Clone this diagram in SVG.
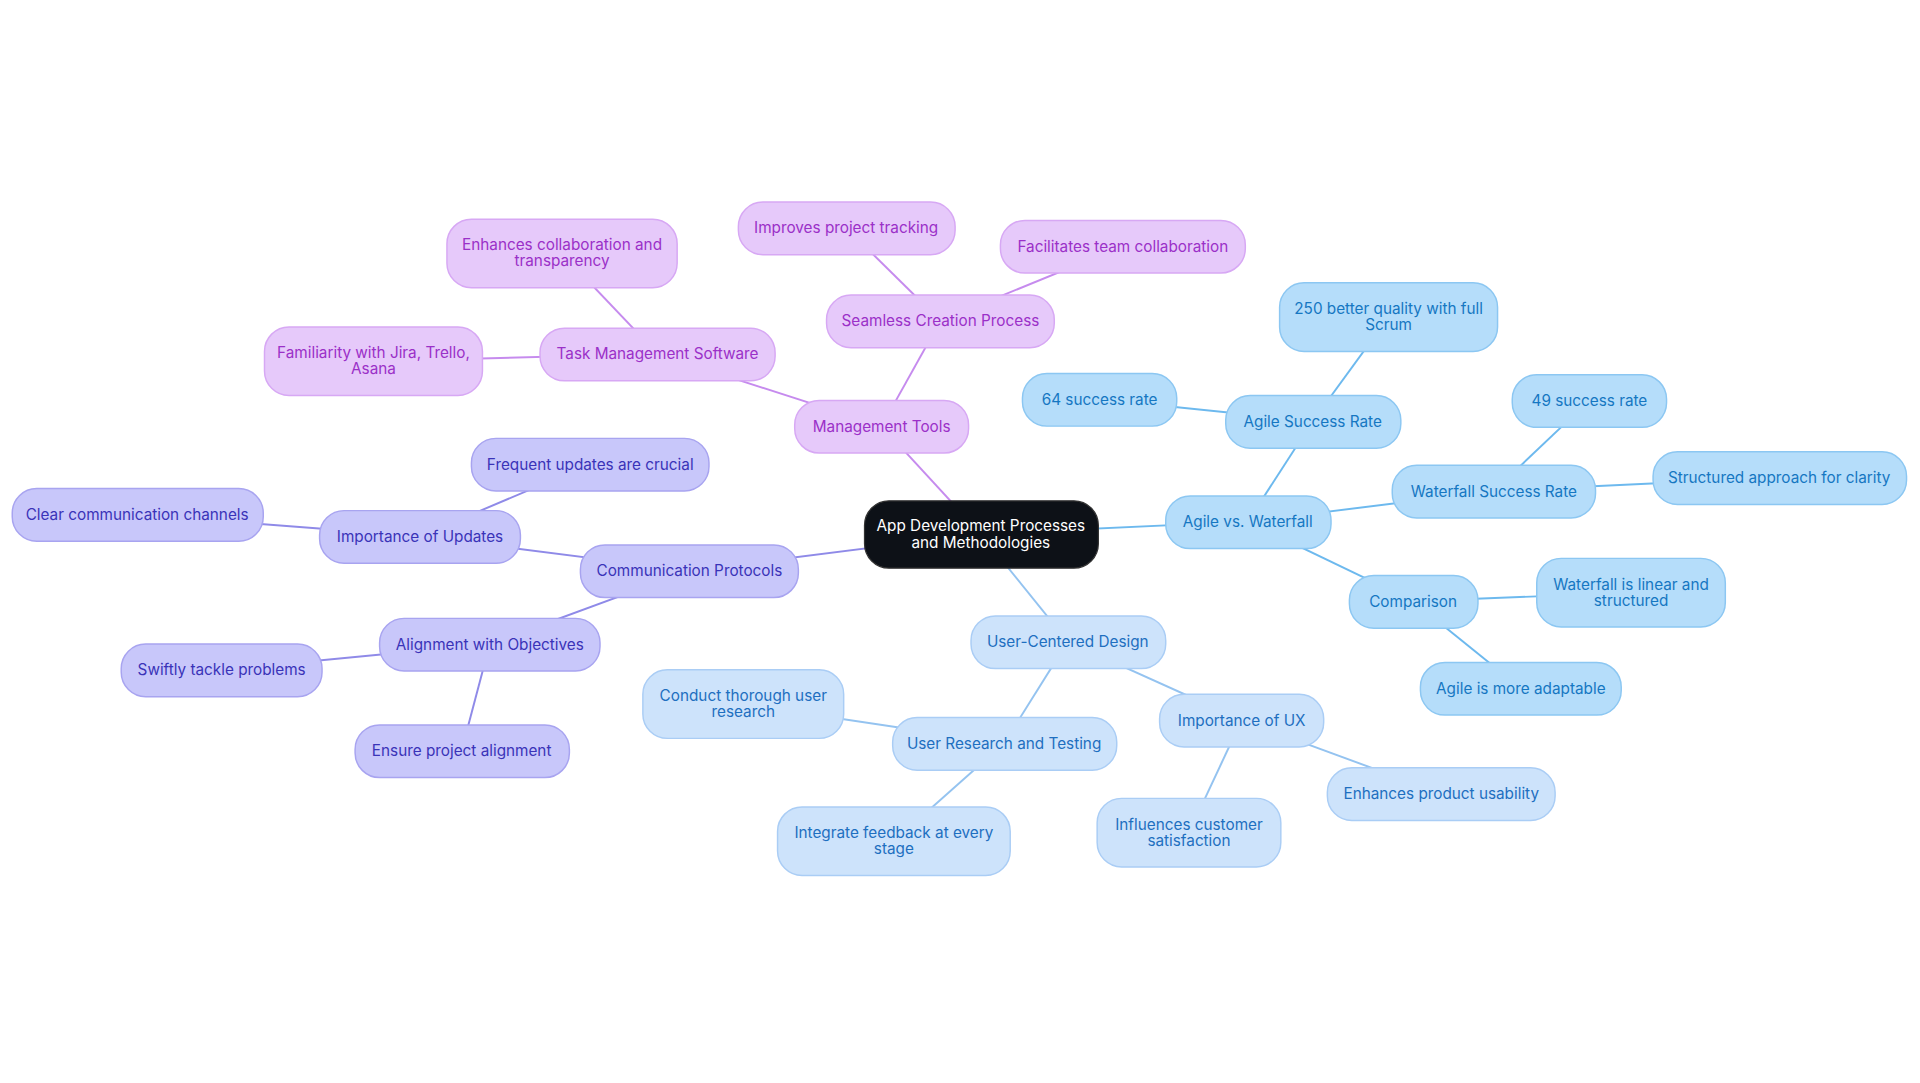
<svg xmlns="http://www.w3.org/2000/svg" width="1920" height="1083" viewBox="0 0 1920 1083">
<style>
text{font-family:Inter,"Noto Sans",sans-serif;font-size:12.5px;text-anchor:middle;dominant-baseline:central}
.p rect{fill:#E6C9FA;stroke:#D7A8F4;stroke-width:1.2}.p text{fill:#9B30C8}
.v rect{fill:#C8C7FA;stroke:#A8A4F0;stroke-width:1.2}.v text{fill:#3A33B8}
.b rect{fill:#B5DDFA;stroke:#8CC7F2;stroke-width:1.2}.b text{fill:#1577C2}
.l rect{fill:#CDE3FB;stroke:#AACDF5;stroke-width:1.2}.l text{fill:#1E6FC0}
.c rect{fill:#0D1117;stroke:#333;stroke-width:1}.c text{fill:#fff}
#edges line{stroke-width:1.6;fill:none}
.ep{stroke:#C68BEE}.ev{stroke:#8F8AE8}.eb{stroke:#6DB9EE}.el{stroke:#94C3F0}
</style>
<rect width="1920" height="1083" fill="#fff"/>
<g transform="scale(1.2245)">
<g id="edges">
<line class="ep" x1="801" y1="436" x2="720" y2="348"/>
<line class="ep" x1="720" y1="348" x2="768" y2="262"/>
<line class="ep" x1="768" y1="262" x2="691" y2="186"/>
<line class="ep" x1="768" y1="262" x2="917" y2="201"/>
<line class="ep" x1="720" y1="348" x2="537" y2="289"/>
<line class="ep" x1="537" y1="289" x2="459" y2="207"/>
<line class="ep" x1="537" y1="289" x2="305" y2="295"/>
<line class="ev" x1="801" y1="436" x2="563" y2="466"/>
<line class="ev" x1="563" y1="466" x2="343" y2="438"/>
<line class="ev" x1="343" y1="438" x2="482" y2="379"/>
<line class="ev" x1="343" y1="438" x2="112" y2="420"/>
<line class="ev" x1="563" y1="466" x2="400" y2="526"/>
<line class="ev" x1="400" y1="526" x2="181" y2="547"/>
<line class="ev" x1="400" y1="526" x2="377" y2="613"/>
<line class="eb" x1="801" y1="436" x2="1019" y2="426"/>
<line class="eb" x1="1019" y1="426" x2="1072" y2="344"/>
<line class="eb" x1="1072" y1="344" x2="1134" y2="259"/>
<line class="eb" x1="1072" y1="344" x2="898" y2="326"/>
<line class="eb" x1="1019" y1="426" x2="1220" y2="401"/>
<line class="eb" x1="1220" y1="401" x2="1298" y2="327"/>
<line class="eb" x1="1220" y1="401" x2="1453" y2="390"/>
<line class="eb" x1="1019" y1="426" x2="1154" y2="491"/>
<line class="eb" x1="1154" y1="491" x2="1332" y2="484"/>
<line class="eb" x1="1154" y1="491" x2="1242" y2="562"/>
<line class="el" x1="801" y1="436" x2="872" y2="524"/>
<line class="el" x1="872" y1="524" x2="820" y2="607"/>
<line class="el" x1="820" y1="607" x2="607" y2="575"/>
<line class="el" x1="820" y1="607" x2="730" y2="687"/>
<line class="el" x1="872" y1="524" x2="1014" y2="588"/>
<line class="el" x1="1014" y1="588" x2="971" y2="680"/>
<line class="el" x1="1014" y1="588" x2="1177" y2="648"/>
</g>
<g id="center" class="c"><rect x="706" y="409" width="191" height="55" rx="20"/><text x="801" y="429">App Development Processes</text><text x="801" y="443">and Methodologies</text></g>
<g id="mt" class="p"><rect x="649" y="327" width="142" height="43" rx="20"/><text x="720" y="348">Management Tools</text></g>
<g id="scp" class="p"><rect x="675" y="241" width="186" height="43" rx="20"/><text x="768" y="262">Seamless Creation Process</text></g>
<g id="ipt" class="p"><rect x="603" y="165" width="177" height="43" rx="20"/><text x="691" y="186">Improves project tracking</text></g>
<g id="ftc" class="p"><rect x="817" y="180" width="200" height="43" rx="20"/><text x="917" y="201">Facilitates team collaboration</text></g>
<g id="tms" class="p"><rect x="441" y="268" width="192" height="43" rx="20"/><text x="537" y="289">Task Management Software</text></g>
<g id="ect" class="p"><rect x="365" y="179" width="188" height="56" rx="20"/><text x="459" y="200">Enhances collaboration and</text><text x="459" y="213">transparency</text></g>
<g id="fj" class="p"><rect x="216" y="267" width="178" height="56" rx="20"/><text x="305" y="288">Familiarity with Jira, Trello,</text><text x="305" y="301">Asana</text></g>
<g id="cp" class="v"><rect x="474" y="445" width="178" height="43" rx="20"/><text x="563" y="466">Communication Protocols</text></g>
<g id="iu" class="v"><rect x="261" y="417" width="164" height="43" rx="20"/><text x="343" y="438">Importance of Updates</text></g>
<g id="fu" class="v"><rect x="385" y="358" width="194" height="43" rx="20"/><text x="482" y="379">Frequent updates are crucial</text></g>
<g id="cc" class="v"><rect x="10" y="399" width="205" height="43" rx="20"/><text x="112" y="420">Clear communication channels</text></g>
<g id="ao" class="v"><rect x="310" y="505" width="180" height="43" rx="20"/><text x="400" y="526">Alignment with Objectives</text></g>
<g id="st" class="v"><rect x="99" y="526" width="164" height="43" rx="20"/><text x="181" y="547">Swiftly tackle problems</text></g>
<g id="ep" class="v"><rect x="290" y="592" width="175" height="43" rx="20"/><text x="377" y="613">Ensure project alignment</text></g>
<g id="avw" class="b"><rect x="952" y="405" width="135" height="43" rx="20"/><text x="1019" y="426">Agile vs. Waterfall</text></g>
<g id="asr" class="b"><rect x="1001" y="323" width="143" height="43" rx="20"/><text x="1072" y="344">Agile Success Rate</text></g>
<g id="q250" class="b"><rect x="1045" y="231" width="178" height="56" rx="20"/><text x="1134" y="252">250 better quality with full</text><text x="1134" y="265">Scrum</text></g>
<g id="s64" class="b"><rect x="835" y="305" width="126" height="43" rx="20"/><text x="898" y="326">64 success rate</text></g>
<g id="wsr" class="b"><rect x="1137" y="380" width="166" height="43" rx="20"/><text x="1220" y="401">Waterfall Success Rate</text></g>
<g id="s49" class="b"><rect x="1235" y="306" width="126" height="43" rx="20"/><text x="1298" y="327">49 success rate</text></g>
<g id="sa" class="b"><rect x="1350" y="369" width="207" height="43" rx="20"/><text x="1453" y="390">Structured approach for clarity</text></g>
<g id="cmp" class="b"><rect x="1102" y="470" width="105" height="43" rx="20"/><text x="1154" y="491">Comparison</text></g>
<g id="wl" class="b"><rect x="1255" y="456" width="154" height="56" rx="20"/><text x="1332" y="477">Waterfall is linear and</text><text x="1332" y="490">structured</text></g>
<g id="ama" class="b"><rect x="1160" y="541" width="164" height="43" rx="20"/><text x="1242" y="562">Agile is more adaptable</text></g>
<g id="ucd" class="l"><rect x="793" y="503" width="159" height="43" rx="20"/><text x="872" y="524">User-Centered Design</text></g>
<g id="urt" class="l"><rect x="729" y="586" width="183" height="43" rx="20"/><text x="820" y="607">User Research and Testing</text></g>
<g id="ctu" class="l"><rect x="525" y="547" width="164" height="56" rx="20"/><text x="607" y="568">Conduct thorough user</text><text x="607" y="581">research</text></g>
<g id="ifb" class="l"><rect x="635" y="659" width="190" height="56" rx="20"/><text x="730" y="680">Integrate feedback at every</text><text x="730" y="693">stage</text></g>
<g id="iux" class="l"><rect x="947" y="567" width="134" height="43" rx="20"/><text x="1014" y="588">Importance of UX</text></g>
<g id="ics" class="l"><rect x="896" y="652" width="150" height="56" rx="20"/><text x="971" y="673">Influences customer</text><text x="971" y="686">satisfaction</text></g>
<g id="epu" class="l"><rect x="1084" y="627" width="186" height="43" rx="20"/><text x="1177" y="648">Enhances product usability</text></g>
</g>
</svg>
